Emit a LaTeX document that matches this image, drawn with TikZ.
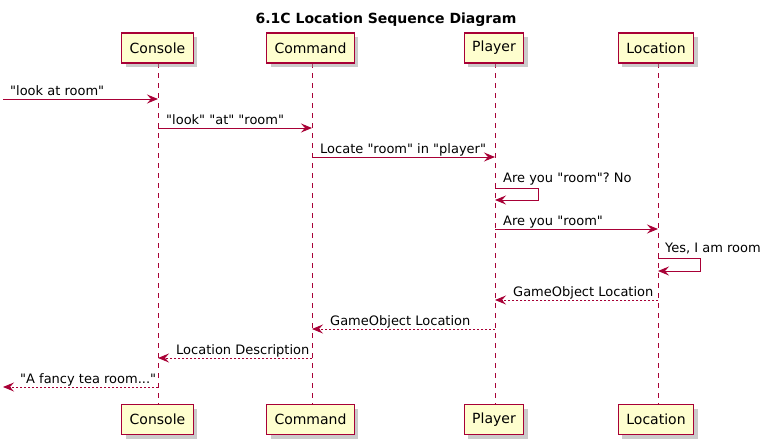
\documentclass[tikz,border=0pt]{standalone}
\usepackage{fontspec}
\setmainfont{DejaVu Sans}[Ligatures=TeXOff]
\frenchspacing
\usetikzlibrary{arrows.meta,shadows}
\definecolor{umlred}{HTML}{A80036}
\definecolor{umlfill}{HTML}{FEFECE}
\tikzset{
  part/.style={draw=umlred, line width=1.4pt, fill=umlfill, minimum height=30pt, minimum width=0pt, inner xsep=8pt,
    font=\fontsize{14}{16}\selectfont, drop shadow={shadow xshift=4pt, shadow yshift=-4pt, fill=black!40, opacity=0.5}},
  life/.style={draw=umlred, line width=0.9pt, dash pattern=on 5pt off 5pt},
  msg/.style={draw=umlred, line width=1pt, -{Stealth[length=11pt,width=9pt,inset=4pt]}},
  ret/.style={msg, dash pattern=on 2pt off 2pt},
  lbl/.style={font=\fontsize{13}{15}\selectfont, inner sep=0pt}
}
\begin{document}
\begin{tikzpicture}[x=1pt,y=-1pt]
\useasboundingbox[fill=white] (0,0) rectangle (772,445);
\node[font=\fontsize{14}{16}\selectfont\bfseries, anchor=base, inner sep=0pt] (title) at (386,23) {6.1C Location Sequence Diagram};
% lifelines
\coordinate (lc) at (158,0);
\coordinate (lm) at (312,0);
\coordinate (lp) at (495,0);
\coordinate (ll) at (658,0);
\coordinate (lc1) at (lc |- 0,63); \coordinate (lc2) at (lc |- 0,404);
\coordinate (lm1) at (lm |- 0,63); \coordinate (lm2) at (lm |- 0,404);
\coordinate (lp1) at (lp |- 0,63); \coordinate (lp2) at (lp |- 0,404);
\coordinate (ll1) at (ll |- 0,63); \coordinate (ll2) at (ll |- 0,404);
\draw[life] (lc1) -- (lc2);
\draw[life] (lm1) -- (lm2);
\draw[life] (lp1) -- (lp2);
\draw[life] (ll1) -- (ll2);
% participants
\node[part] (consT) at (157.5,48) {Console};
\node[part] (cmdT) at (310.5,48) {Command};
\node[part] (plyT) at (494,48) {Player};
\node[part] (locT) at (656,48) {Location};
\node[part] (consB) at (157.5,419.5) {Console};
\node[part] (cmdB) at (310.5,419.5) {Command};
\node[part] (plyB) at (494,419.5) {Player};
\node[part] (locB) at (656,419.5) {Location};
% message endpoints
\coordinate (in1) at (3,99);
\coordinate (m1) at (lc |- 0,99);
\coordinate (m2a) at (lc |- 0,128); \coordinate (m2b) at (lm |- 0,128);
\coordinate (m3a) at (lm |- 0,157); \coordinate (m3b) at (lp |- 0,157);
\coordinate (s1a) at (lp |- 0,188); \coordinate (s1b) at (lp |- 0,200);
\coordinate (m5a) at (lp |- 0,229); \coordinate (m5b) at (ll |- 0,229);
\coordinate (s2a) at (ll |- 0,258); \coordinate (s2b) at (ll |- 0,271);
\coordinate (r1a) at (ll |- 0,300); \coordinate (r1b) at (lp |- 0,300);
\coordinate (r2a) at (lp |- 0,329); \coordinate (r2b) at (lm |- 0,329);
\coordinate (r3a) at (lm |- 0,358); \coordinate (r3b) at (lc |- 0,358);
\coordinate (r4a) at (lc |- 0,387); \coordinate (out4) at (3,387);
% messages
\draw[msg] (in1) -- (m1);
\node[lbl, anchor=base west] at (10,95) {"look at room"};
\draw[msg] (m2a) -- (m2b);
\node[lbl, anchor=base west] at (166,124) {"look" "at" "room"};
\draw[msg] (m3a) -- (m3b);
\node[lbl, anchor=base west] at (320,153) {Locate "room" in "player"};
\draw[msg] (s1a) -- ++(43,0) |- (s1b);
\node[lbl, anchor=base west] at (503,182) {Are you "room"? No};
\draw[msg] (m5a) -- (m5b);
\node[lbl, anchor=base west] at (503,225) {Are you "room"};
\draw[msg] (s2a) -- ++(42,0) |- (s2b);
\node[lbl, anchor=base west] at (665,252) {Yes, I am room};
\draw[ret] (r1a) -- (r1b);
\node[lbl, anchor=base west] at (513,296) {GameObject Location};
\draw[ret] (r2a) -- (r2b);
\node[lbl, anchor=base west] at (330,325) {GameObject Location};
\draw[ret] (r3a) -- (r3b);
\node[lbl, anchor=base west] at (176,354) {Location Description};
\draw[ret] (r4a) -- (out4);
\node[lbl, anchor=base west] at (20,383) {"A fancy tea room..."};
\end{tikzpicture}
\end{document}
